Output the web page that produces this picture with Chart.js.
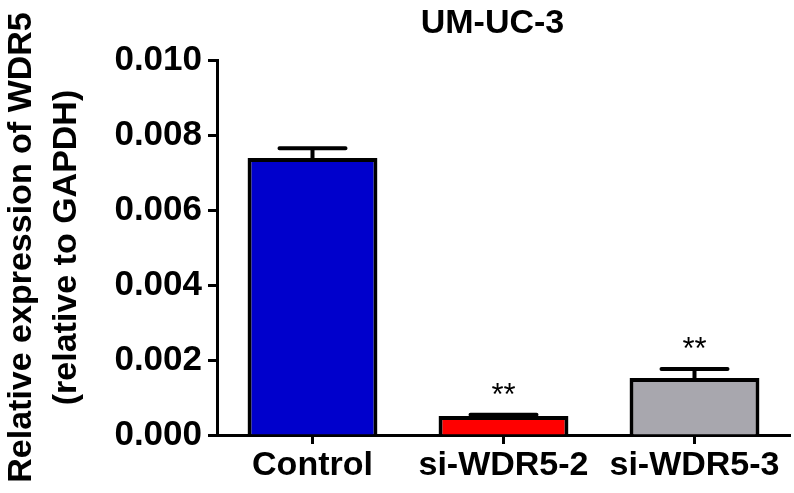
<!DOCTYPE html>
<html>
<head>
<meta charset="utf-8">
<title>UM-UC-3 WDR5 expression</title>
<script src="https://cdn.jsdelivr.net/npm/chart.js@4"></script>
<style>
  html, body { margin: 0; padding: 0; background: #fff; }
  #wrap { width: 794px; height: 493px; position: relative; }
</style>
</head>
<body>
<div id="wrap"><canvas id="chart"></canvas></div>
<script>
// ---------- data ----------
const categories = ["Control", "si-WDR5-2", "si-WDR5-3"];
const means = [0.00739, 0.00051, 0.00152];
const sems = [0.00026, 0.00003, 0.00024];
const marks = ["", "**", "**"];
const barColors = ["#0000cc", "#ff0000", "#a8a7ae"];
const yTicks = [0, 0.002, 0.004, 0.006, 0.008, 0.010];
const chartTitle = "UM-UC-3";
const yTitle = ["Relative expression of WDR5", "(relative to GAPDH)"];

const FONT = "Arial, 'Liberation Sans', Helvetica, sans-serif";

// ---------- error bars, significance marks, title ----------
const extrasPlugin = {
  id: "extras",
  afterDatasetsDraw(chart) {
    const { ctx, scales } = chart;
    const meta = chart.getDatasetMeta(0);
    ctx.save();
    ctx.strokeStyle = "#000";
    ctx.fillStyle = "#000";
    ctx.lineWidth = 4;
    ctx.lineCap = "round";
    meta.data.forEach((bar, i) => {
      const x = bar.x;
      const yTop = scales.y.getPixelForValue(means[i]);
      const yErr = scales.y.getPixelForValue(means[i] + sems[i]);
      const half = 33;
      ctx.beginPath();
      ctx.moveTo(x, yTop);
      ctx.lineTo(x, yErr);
      ctx.moveTo(x - half, yErr);
      ctx.lineTo(x + half, yErr);
      ctx.stroke();
      if (marks[i]) {
        ctx.font = "31px " + FONT;
        ctx.textAlign = "center";
        ctx.textBaseline = "alphabetic";
        ctx.fillText(marks[i], x, yErr - 28 + 18);
      }
    });
    // title centered over the plot
    const ca = chart.chartArea;
    ctx.font = "bold 34px " + FONT;
    ctx.textAlign = "center";
    ctx.textBaseline = "middle";
    ctx.fillText(chartTitle, (ca.left + ca.right) / 2 - 11, 24);
    ctx.restore();
  }
};

// ---------- chart ----------
function renderChart() {
  const canvas = document.getElementById("chart");
  new Chart(canvas, {
    type: "bar",
    data: {
      labels: categories,
      datasets: [{
        data: means,
        backgroundColor: barColors,
        borderColor: "#000",
        borderWidth: 4,
        borderSkipped: "bottom",
        categoryPercentage: 1,
        barPercentage: 0.68
      }]
    },
    options: {
      responsive: true,
      maintainAspectRatio: false,
      animation: false,
      layout: { padding: { top: 60, right: 4, left: 0, bottom: 0 } },
      plugins: {
        legend: { display: false },
        tooltip: { enabled: false },
        title: { display: false }
      },
      scales: {
        x: {
          offset: true,
          border: { color: "#000", width: 3 },
          grid: {
            offset: false,
            drawOnChartArea: false,
            drawTicks: true,
            tickLength: 9,
            tickColor: "#000",
            tickWidth: 3
          },
          ticks: {
            color: "#000",
            padding: 1,
            maxRotation: 0,
            font: { family: FONT, size: 34, weight: "bold" }
          },
          afterFit(scale) { scale.height = 58; }
        },
        y: {
          min: 0,
          max: 0.01,
          border: { color: "#000", width: 3 },
          grid: {
            drawOnChartArea: false,
            drawTicks: true,
            tickLength: 9,
            tickColor: "#000",
            tickWidth: 3
          },
          afterBuildTicks(scale) {
            scale.ticks = yTicks.map(v => ({ value: v }));
          },
          ticks: {
            color: "#000",
            padding: 6,
            font: { family: FONT, size: 35, weight: "bold" },
            callback: v => Number(v).toFixed(3)
          },
          title: {
            display: true,
            text: yTitle,
            color: "#000",
            padding: { top: 0, bottom: 4 },
            font: { family: FONT, size: 34, weight: "bold", lineHeight: 1.3 }
          },
          afterFit(scale) { scale.width = 217; }
        }
      }
    },
    plugins: [extrasPlugin]
  });
}

document.addEventListener("DOMContentLoaded", renderChart);
</script>
</body>
</html>
